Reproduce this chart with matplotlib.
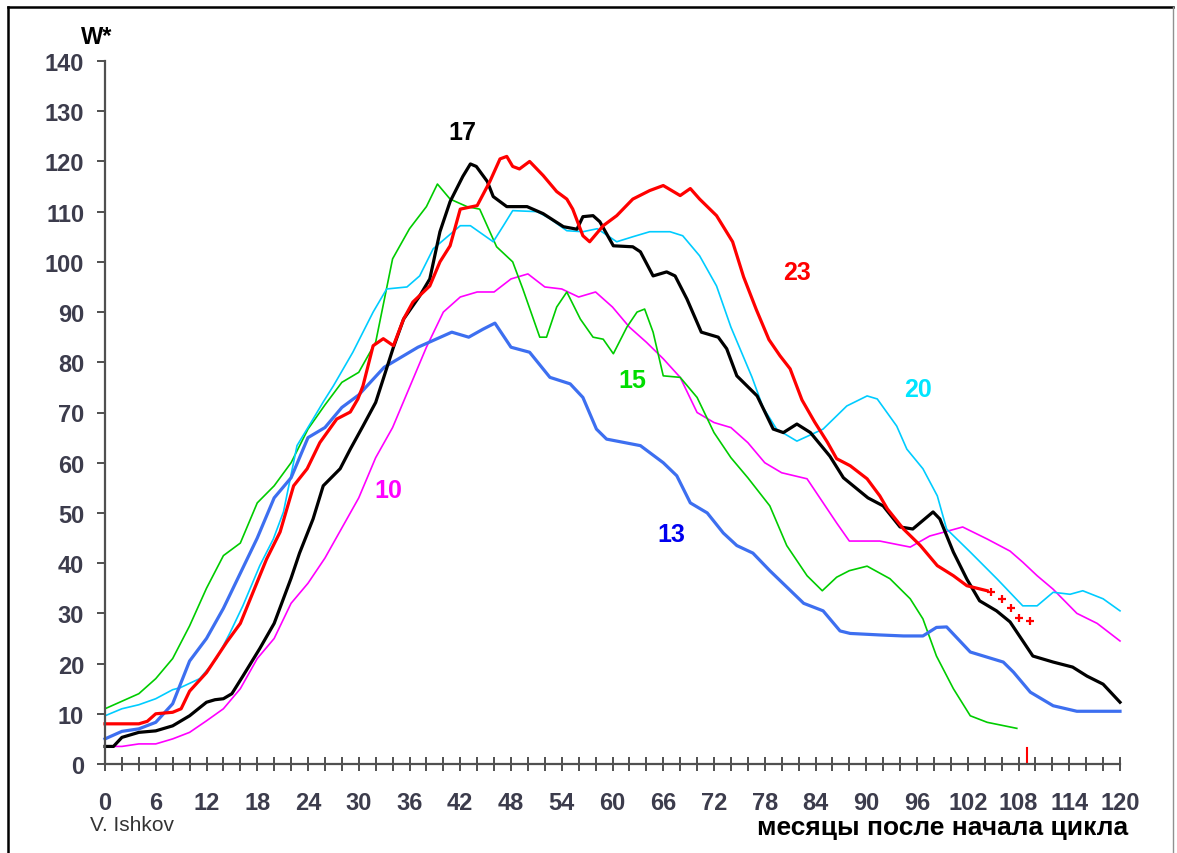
import matplotlib
matplotlib.use("Agg")
import matplotlib.pyplot as plt
from matplotlib.lines import Line2D

plt.rcParams['font.family'] = ['Liberation Sans', 'DejaVu Sans']

# --- data (months after cycle start, W*) ---
m10 = [0, 2, 4, 6, 8, 10, 12, 14, 16, 18, 20, 22, 24, 26, 28, 30, 32, 34, 36, 38, 40, 42, 44, 46, 48,
       50, 52, 54, 56, 58, 60, 62, 64, 66, 68, 70, 72, 74, 76, 78, 80, 83, 86.5, 88, 91.6, 95.2, 97.5,
       101.4, 104.3, 107, 108.5, 110.2, 112.1, 114.9, 117.3, 120]
w10 = [3.5, 3.5, 4, 4, 5, 6.3, 8.6, 11, 15, 21, 25, 32, 36, 41, 47, 53, 61, 67, 75, 83, 90, 93, 94, 94,
       96.6, 97.6, 95, 94.6, 93, 94, 91, 87, 84, 80.7, 77, 70, 68, 67, 64, 60, 58, 56.8, 48, 44.4, 44.4,
       43.2, 45.4, 47.2, 44.8, 42.4, 40.2, 37.5, 34.8, 30, 28, 24.5]

m13 = [0, 2, 4, 6, 8, 10, 12, 14, 16, 18, 20, 22, 24, 26, 28, 30, 33, 37, 41, 43, 44.7, 46.1, 48, 50.2,
       52.6, 55, 56.5, 58.1, 59.3, 63.3, 66, 67.6, 69.2, 71.2, 73.1, 74.7, 76.6, 78.6, 82.6, 84.9, 86.9,
       88.1, 91.6, 94.4, 96.7, 98.3, 99.5, 102.3, 106.2, 107.4, 109.4, 112.1, 114.9, 118, 120]
w13 = [5, 6.5, 7, 8.3, 12, 20.5, 25, 31, 38, 45, 53, 57, 65, 67, 71, 73.5, 79, 83, 86, 85, 86.6, 87.8,
       83, 82, 77, 75.7, 73, 66.7, 64.7, 63.4, 60, 57.4, 52, 50, 46, 43.5, 42, 38.5, 32, 30.5, 26.5, 26,
       25.7, 25.5, 25.5, 27.2, 27.3, 22.3, 20.3, 18.3, 14.3, 11.6, 10.5, 10.5, 10.5]

m15 = [0, 2, 4, 6, 8, 10, 12, 14, 16, 18, 20, 22, 24, 26, 28, 30, 32, 34, 36, 38, 39.3, 40.8, 42.8,
       44.3, 46.3, 48.2, 49.4, 51.4, 52.2, 53.4, 54.6, 56.2, 57.7, 58.9, 60.1, 61.7, 62.9, 63.8, 64.8,
       66, 68, 70, 72, 74, 76, 78.6, 80.6, 83, 84.8, 86.5, 88, 90.1, 92.8, 95.2, 96.7, 98.3, 100.3,
       102.3, 104.3, 107.8]
w15 = [11, 12.5, 14, 17, 21, 27.5, 35, 41.5, 44, 52, 55.4, 60, 66.7, 71.5, 76, 78, 84, 100.6, 106.6,
       111, 115.5, 112.5, 111, 110.5, 103, 100, 94.6, 85, 85, 91, 94, 88.6, 85, 84.6, 81.7, 87, 90,
       90.6, 86, 77.3, 77, 73, 66, 61, 57, 51.4, 43.5, 37.5, 34.5, 37.2, 38.5, 39.4, 36.9, 32.9, 28.9,
       21.5, 15, 9.6, 8.3, 7.1]

m17 = [0, 1, 2, 4, 6, 8, 10, 12, 13, 14, 15, 16.3, 18.3, 20, 22, 23, 24.6, 25.8, 27.8, 29, 30.5, 32,
       32.9, 34.1, 35.3, 37.2, 38.4, 39.6, 40.8, 42.3, 43.2, 43.9, 45.2, 45.9, 47.5, 49.9, 51.8, 54.2,
       55.8, 56.5, 57.7, 58.5, 60.1, 62.4, 63.3, 64.8, 66.4, 67.4, 68.8, 70.5, 72.5, 73.5, 74.7, 77.1,
       79, 80.2, 81.8, 83.4, 85.7, 87.3, 90.2, 92, 94, 95.5, 97.9, 98.7, 100.3, 101.9, 103.4, 105.4,
       107, 109.7, 112.1, 114.4, 116.1, 118, 120]
w17 = [3.5, 3.5, 5.3, 6.3, 6.6, 7.6, 9.6, 12.3, 12.8, 13, 14, 17.5, 23, 28, 37, 42, 48.8, 55.4, 58.8,
       62.7, 67.3, 72, 76.7, 83, 88.6, 93.2, 96.6, 106, 112, 117, 119.5, 119, 116, 113, 111, 111, 109.6,
       107, 106.5, 109, 109.2, 108, 103.2, 103, 102, 97.2, 98, 97.2, 92.6, 86, 85, 82.7, 77.3, 73.3,
       66.7, 66, 67.7, 66, 61.3, 57, 53, 51.4, 47.2, 46.8, 50.2, 48.8, 42.2, 36.8, 32.5, 30.5, 28.3,
       21.5, 20.3, 19.3, 17.5, 15.9, 12.3]

m20 = [0, 2, 4, 6, 8, 8.9, 11.2, 13.2, 14.8, 16.3, 18.3, 19.9, 21.1, 21.9, 22.7, 24.6, 25.8, 27, 29.3,
       31.7, 33.3, 35.7, 37.2, 38.8, 42, 43.2, 45.9, 47.1, 48.2, 51.1, 52.6, 54.6, 56.5, 58.2, 60.5,
       62.4, 64.4, 66.8, 68.3, 70.3, 72.3, 74, 75.5, 76.5, 77.8, 79.4, 81.8, 84.9, 87.7, 90.1, 91.3,
       93.6, 94.8, 96.7, 98.4, 99.5, 102.3, 105.5, 108.5, 110.2, 112.1, 114.1, 115.6, 118, 120]
w20 = [9.6, 11, 11.8, 13, 14.8, 15.2, 17, 21, 26.2, 31.5, 39.5, 44.8, 50.2, 56.8, 63.4, 68.7, 72.1,
       75.3, 82, 90, 94.6, 95, 97.2, 102.6, 107.2, 107.2, 104, 107.2, 110.2, 110, 108.6, 106.2, 106,
       106.6, 104, 105, 106, 106, 105.2, 101.2, 95.2, 87, 81, 77, 71, 66.7, 64.3, 66.7, 71.3, 73.3, 72.7,
       67.3, 62.7, 58.8, 53.4, 46.8, 42.2, 36.8, 31.5, 31.5, 34.2, 33.8, 34.5, 32.9, 30.5]

m23 = [0, 2, 4, 5, 6, 8, 9, 10, 12, 14.4, 16, 17.5, 19.1, 20.7, 22.3, 23.9, 25.4, 27.4, 29, 29.9, 30.5,
       31.7, 32.9, 34.1, 35.3, 36.4, 38.4, 39.6, 40.8, 42, 44, 45.5, 46.7, 47.5, 48.2, 49, 50.2, 51.8,
       53.4, 54.6, 55.3, 56.5, 57.3, 58.9, 60.5, 62.4, 64.4, 66, 68, 69.2, 70.3, 72.3, 74.2, 75.5, 77,
       78.5, 79.8, 81, 82.4, 83.9, 85.4, 86.5, 88.1, 90.1, 91.6, 92.5, 94.4, 96.4, 98.4, 100.3, 101.9,
       104.3]
w23 = [8, 8, 8, 8.5, 10, 10.3, 11, 14.5, 18.2, 24.3, 28, 34.2, 40.8, 46.2, 55.4, 58.8, 64, 68.7, 70.1,
       72.7, 75.3, 83.3, 84.7, 83.3, 88.6, 92, 95.2, 100, 103.2, 110.5, 111.2, 116, 120.5, 121, 119,
       118.5, 120, 117.2, 114, 112.5, 110.5, 105.2, 104, 107.2, 109.2, 112.5, 114.2, 115.2, 113.2,
       114.6, 112.5, 109.2, 104, 97, 90.5, 84.5, 81.3, 78.7, 72.5, 68.1, 64.1, 60.8, 59.4, 56.8, 53.4,
       50.8, 46.8, 43.5, 39.5, 37.5, 35.5, 34.5]

# cycle 23 extrapolation (dotted crosses)
m23_fc = [104.8, 106.1, 107.1, 108.1, 109.4]
w23_fc = [34.2, 32.9, 31.0, 29.0, 28.5]
now_month = 109

labels = ['10', '13', '15', '17', '20', '23']
label_m = [33.5, 67, 62.3, 42.3, 96.1, 81.8]
label_w = [54.6, 45.8, 76.5, 125.9, 74.7, 97.9]
label_colors = ['#ff00ff', '#0000ee', '#00dd00', '#000000', '#00e5ff', '#ff0000']

fig = plt.figure(figsize=(11.77, 8.54), dpi=100)
ax = fig.add_axes([105 / 1177, 1 - 765 / 854, 1015 / 1177, 703 / 854])

ax.plot(m10, w10, color='#ff00ff', lw=1.2, clip_on=False)
ax.plot(m15, w15, color='#00cc00', lw=1.2, clip_on=False)
ax.plot(m20, w20, color='#00ccff', lw=1.2, clip_on=False)
ax.plot(m13, w13, color='#3d6ff0', lw=2.3, clip_on=False)
ax.plot(m17, w17, color='#000000', lw=2.3, clip_on=False)
ax.plot(m23, w23, color='#ff0000', lw=2.3, clip_on=False)
ax.plot(m23_fc, w23_fc, ls='none', marker='+', ms=6, mew=1.6, color='#ff0000')
ax.plot([now_month, now_month], [0, 3.2], color='#ff0000', lw=1.5)

for t, x, y, c in zip(labels, label_m, label_w, label_colors):
    ax.text(x, y, t, color=c, fontsize=18, fontweight='bold', ha='center', va='center')

ax.set_xlim(0, 120)
ax.set_ylim(0, 140)
for s in ['top', 'right']:
    ax.spines[s].set_visible(False)
for s in ['left', 'bottom']:
    ax.spines[s].set_color('#505050')
    ax.spines[s].set_linewidth(1.6)

xt = list(range(0, 121, 2))
ax.set_xticks(xt)
ax.set_xticklabels([str(v) if v % 6 == 0 else '' for v in xt])
ax.set_yticks(range(0, 141, 10))
ax.tick_params(axis='x', direction='inout', length=10, width=1.4, color='#505050', pad=14.5,
               labelsize=17, labelcolor='#3c3c4c')
ax.tick_params(axis='y', direction='out', length=6, width=1.4, color='#505050', pad=9,
               labelsize=17, labelcolor='#3c3c4c')
for lab in ax.get_xticklabels() + ax.get_yticklabels():
    lab.set_fontweight('bold')

fig.text(97 / 1177, 1 - 38 / 854, 'W*', fontsize=17, fontweight='bold', ha='center', va='center')
fig.text(90 / 1177, 1 - 826 / 854, 'V. Ishkov', fontsize=15, color='#333333', ha='left', va='center')
fig.text(1128 / 1177, 1 - 828 / 854, 'месяцы после начала цикла', fontsize=19, fontweight='bold',
         ha='right', va='center')

# picture frame
fig.add_artist(Line2D([8 / 1177, 8 / 1177], [0, 1 - 8 / 854], color='black', lw=1.8))
fig.add_artist(Line2D([8 / 1177, 1173 / 1177], [1 - 8 / 854, 1 - 8 / 854], color='black', lw=1.8))
fig.add_artist(Line2D([1173 / 1177, 1173 / 1177], [0, 1 - 8 / 854], color='#909090', lw=1.0))

fig.savefig('out.png', dpi=100)
